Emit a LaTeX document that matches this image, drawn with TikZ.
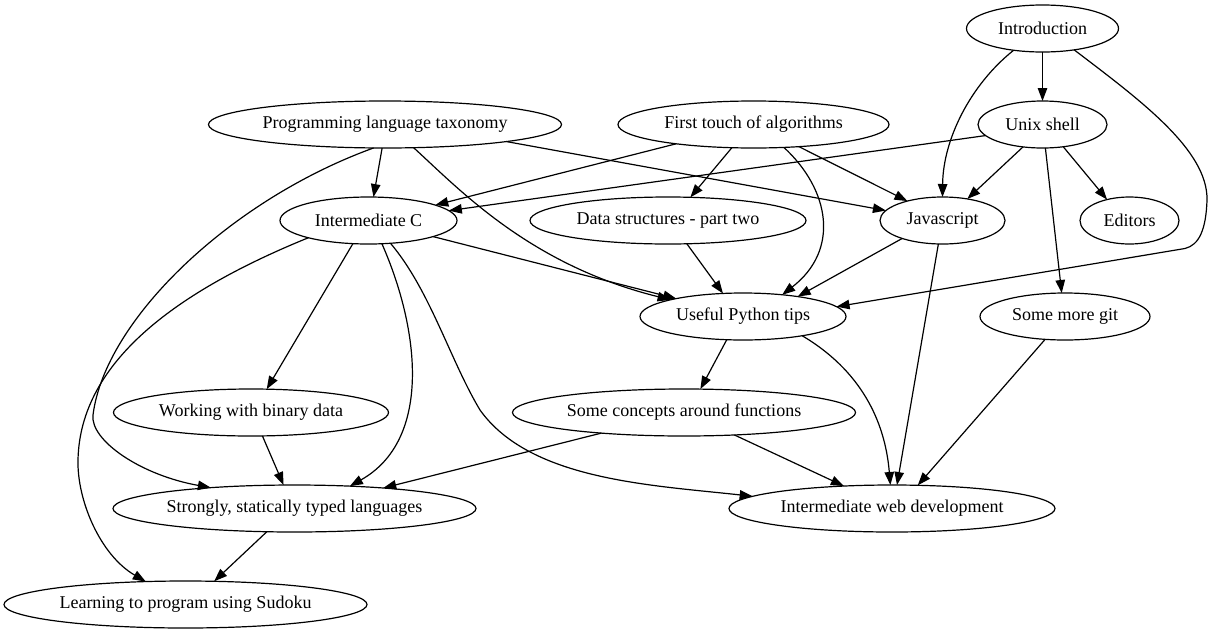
\documentclass[tikz,border=0pt]{standalone}
\usepackage{fontspec}
\setmainfont{Liberation Serif}
\usetikzlibrary{shapes.geometric,arrows.meta}
\tikzset{
  nd/.style={ellipse, draw, line width=1.2pt, minimum height=47pt, inner sep=0pt, outer sep=0pt, font=\fontsize{18}{20}\selectfont},
  edge/.style={line width=1.2pt, -{Triangle[length=13pt,width=9.5pt]}}
}
\begin{document}
\begin{tikzpicture}[x=1pt,y=-1pt]
\useasboundingbox (0,0) rectangle (1212,635);
% nodes
\node[nd, minimum width=152pt] (intro) at (1042.5,28.5) {Introduction};
\node[nd, minimum width=129pt] (unix) at (1042.5,124.5) {Unix shell};
\node[nd, minimum width=353pt] (plt) at (385,124.5) {Programming language taxonomy};
\node[nd, minimum width=271pt] (ftouch) at (753.5,124.5) {First touch of algorithms};
\node[nd, minimum width=177pt] (ic) at (368.5,220.5) {Intermediate C};
\node[nd, minimum width=276pt] (ds) at (668,220.5) {Data structures - part two};
\node[nd, minimum width=125pt] (js) at (942.5,220.5) {Javascript};
\node[nd, minimum width=99pt] (ed) at (1129.5,220.5) {Editors};
\node[nd, minimum width=206pt] (py) at (743,316.5) {Useful Python tips};
\node[nd, minimum width=170pt] (git) at (1065,316.5) {Some more git};
\node[nd, minimum width=275pt] (bin) at (251,412.5) {Working with binary data};
\node[nd, minimum width=343pt] (fun) at (684,412.5) {Some concepts around functions};
\node[nd, minimum width=363pt] (st) at (294.5,508.5) {Strongly, statically typed languages};
\node[nd, minimum width=326pt] (web) at (892,508.5) {Intermediate web development};
\node[nd, minimum width=363pt] (sud) at (185.5,604.5) {Learning to program using Sudoku};
% edges
\draw[edge] (intro) -- (unix);
\draw[edge] (intro.-143) .. controls (970,85) and (943,140) .. (js.north);
\draw[edge] (intro.-34) .. controls (1140,100) and (1208,150) .. (1207,200)
  .. controls (1206,230) and (1199,245) .. (1185,248.5) -- (py.6.5);
\draw[edge] (unix.-169.1) -- (ic.7.3);
\draw[edge] (unix.-131.5) -- (js.41.9);
\draw[edge] (unix.-47.4) -- (ed.137.5);
\draw[edge] (unix.-83.9) -- (git.98);
\draw[edge] (plt.-97.8) -- (ic.78.6);
\draw[edge] (plt.-8.6) -- (js.170.9);
\draw[edge] (plt.-39.3) .. controls (460,190) and (530,265) .. (py.167.2);
\draw[edge] (plt.-116.8) .. controls (230,200) and (105,320) .. (93,415)
  .. controls (90,440) and (140,475) .. (st.166.2);
\draw[edge] (ftouch.-166.8) -- (ic.13.1);
\draw[edge] (ftouch.-133.2) -- (ds.46.5);
\draw[edge] (ftouch.-26.5) -- (js.151.7);
\draw[edge] (ftouch.-37.8) .. controls (830,190) and (840,250) .. (py.29.9);
\draw[edge] (ic.-14) -- (py.165.4);
\draw[edge] (ic.-124.4) -- (bin.56.1);
\draw[edge] (ic.-60.4) .. controls (420,330) and (432,440) .. (st.22);
\draw[edge] (ic.-46.7) .. controls (430,290) and (450,360) .. (480,410)
  .. controls (530,480) and (650,485) .. (web.175.4);
\draw[edge] (ic.-164.8) .. controls (180,290) and (80,360) .. (78,460)
  .. controls (77,500) and (100,555) .. (sud.150.5);
\draw[edge] (ds.-51.3) -- (py.131);
\draw[edge] (js.-156.4) -- (py.20.3);
\draw[edge] (js.-100.2) -- (web.78);
\draw[edge] (py.-125.1) -- (fun.55.6);
\draw[edge] (py.-18.5) .. controls (860,370) and (885,420) .. (web.94.9);
\draw[edge] (git.-131.8) -- (web.42.4);
\draw[edge] (bin.-64.8) -- (st.115.5);
\draw[edge] (fun.-166.7) -- (st.13.3);
\draw[edge] (fun.-24.2) -- (web.155);
\draw[edge] (st.-140.2) -- (sud.39.8);
\end{tikzpicture}
\end{document}
